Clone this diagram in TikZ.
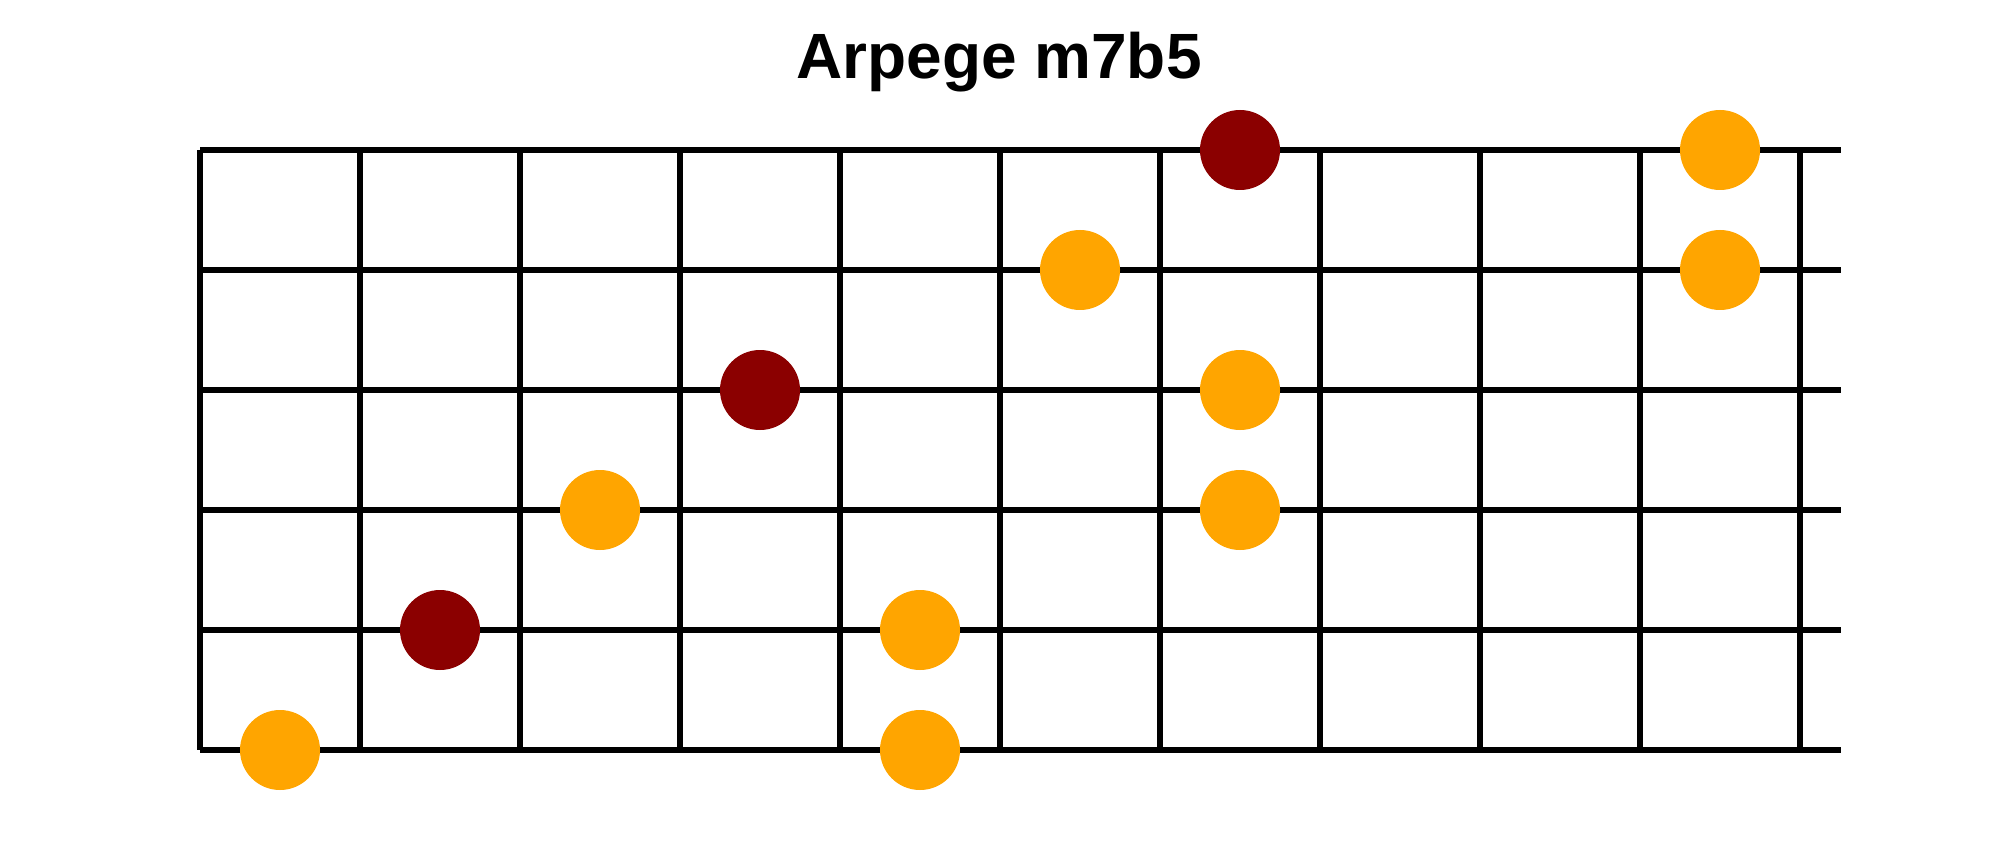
\documentclass[tikz,border=0pt]{standalone}
\usepackage{fontspec}
\setmainfont{Liberation Sans}
\definecolor{rootred}{HTML}{8B0000}
\definecolor{noteorange}{HTML}{FFA500}
\begin{document}
\begin{tikzpicture}[x=1pt,y=-1pt,
  gridline/.style={line width=5.3pt,black},
  rootdot/.style={circle,fill=rootred,minimum size=80pt,inner sep=0pt,draw=none},
  notedot/.style={circle,fill=noteorange,minimum size=80pt,inner sep=0pt,draw=none}]
\useasboundingbox (0,0) rectangle (2000,850);
\fill[white] (0,0) rectangle (2000,850);
\node[anchor=base,font=\fontsize{64}{77}\selectfont\bfseries] (title) at (999,79) {Arpege m7b5};
% strings
\foreach \s in {0,...,5} {
  \draw[gridline] (200,150+120*\s) -- (1841,150+120*\s);
}
% frets
\foreach \f in {0,...,10} {
  \draw[gridline] (200+160*\f,150) -- (200+160*\f,750);
}
% notes
\node[rootdot] (r1) at (1240,150) {};
\node[notedot] (n1) at (1720,150) {};
\node[notedot] (n2) at (1080,270) {};
\node[notedot] (n3) at (1720,270) {};
\node[rootdot] (r2) at (760,390) {};
\node[notedot] (n4) at (1240,390) {};
\node[notedot] (n5) at (600,510) {};
\node[notedot] (n6) at (1240,510) {};
\node[rootdot] (r3) at (440,630) {};
\node[notedot] (n7) at (920,630) {};
\node[notedot] (n8) at (280,750) {};
\node[notedot] (n9) at (920,750) {};
\end{tikzpicture}
\end{document}
